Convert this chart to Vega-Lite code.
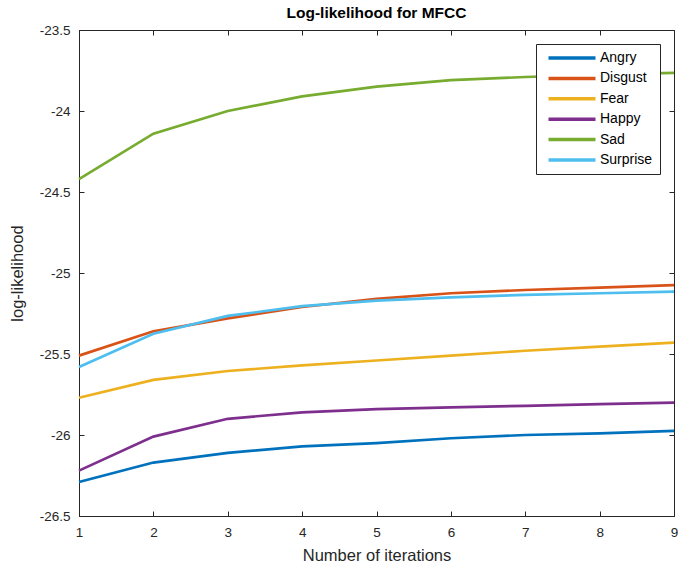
{
  "$schema": "https://vega.github.io/schema/vega-lite/v6.json",
  "autosize": "none",
  "width": 595,
  "height": 486,
  "padding": {"left": 79, "top": 30, "right": 4, "bottom": 57},
  "background": "white",
  "config": {
    "font": "Liberation Sans",
    "view": {"stroke": "#262626", "strokeWidth": 1},
    "axis": {"grid": false, "domainColor": "#262626", "tickColor": "#262626", "labelColor": "#262626", "titleColor": "#262626", "labelFont": "Liberation Sans", "titleFont": "Liberation Sans", "labelFontSize": 13.5, "titleFontSize": 16.5, "titleFontWeight": "normal"}
  },
  "title": {"text": "Log-likelihood for MFCC", "fontSize": 15.5, "fontWeight": "bold", "font": "Liberation Sans", "color": "#000000", "offset": 2, "frame": "group", "anchor": "middle"},
  "data": {"values": [
    {"iter": 1, "series": "Angry", "ll": -26.29},
    {"iter": 2, "series": "Angry", "ll": -26.17},
    {"iter": 3, "series": "Angry", "ll": -26.11},
    {"iter": 4, "series": "Angry", "ll": -26.07},
    {"iter": 5, "series": "Angry", "ll": -26.05},
    {"iter": 6, "series": "Angry", "ll": -26.02},
    {"iter": 7, "series": "Angry", "ll": -26.0},
    {"iter": 8, "series": "Angry", "ll": -25.99},
    {"iter": 9, "series": "Angry", "ll": -25.975},
    {"iter": 1, "series": "Disgust", "ll": -25.51},
    {"iter": 2, "series": "Disgust", "ll": -25.36},
    {"iter": 3, "series": "Disgust", "ll": -25.28},
    {"iter": 4, "series": "Disgust", "ll": -25.21},
    {"iter": 5, "series": "Disgust", "ll": -25.16},
    {"iter": 6, "series": "Disgust", "ll": -25.125},
    {"iter": 7, "series": "Disgust", "ll": -25.105},
    {"iter": 8, "series": "Disgust", "ll": -25.09},
    {"iter": 9, "series": "Disgust", "ll": -25.075},
    {"iter": 1, "series": "Fear", "ll": -25.77},
    {"iter": 2, "series": "Fear", "ll": -25.66},
    {"iter": 3, "series": "Fear", "ll": -25.605},
    {"iter": 4, "series": "Fear", "ll": -25.57},
    {"iter": 5, "series": "Fear", "ll": -25.54},
    {"iter": 6, "series": "Fear", "ll": -25.51},
    {"iter": 7, "series": "Fear", "ll": -25.48},
    {"iter": 8, "series": "Fear", "ll": -25.455},
    {"iter": 9, "series": "Fear", "ll": -25.43},
    {"iter": 1, "series": "Happy", "ll": -26.22},
    {"iter": 2, "series": "Happy", "ll": -26.01},
    {"iter": 3, "series": "Happy", "ll": -25.9},
    {"iter": 4, "series": "Happy", "ll": -25.86},
    {"iter": 5, "series": "Happy", "ll": -25.84},
    {"iter": 6, "series": "Happy", "ll": -25.83},
    {"iter": 7, "series": "Happy", "ll": -25.82},
    {"iter": 8, "series": "Happy", "ll": -25.81},
    {"iter": 9, "series": "Happy", "ll": -25.8},
    {"iter": 1, "series": "Sad", "ll": -24.42},
    {"iter": 2, "series": "Sad", "ll": -24.14},
    {"iter": 3, "series": "Sad", "ll": -24.0},
    {"iter": 4, "series": "Sad", "ll": -23.91},
    {"iter": 5, "series": "Sad", "ll": -23.85},
    {"iter": 6, "series": "Sad", "ll": -23.81},
    {"iter": 7, "series": "Sad", "ll": -23.79},
    {"iter": 8, "series": "Sad", "ll": -23.775},
    {"iter": 9, "series": "Sad", "ll": -23.765},
    {"iter": 1, "series": "Surprise", "ll": -25.58},
    {"iter": 2, "series": "Surprise", "ll": -25.375},
    {"iter": 3, "series": "Surprise", "ll": -25.265},
    {"iter": 4, "series": "Surprise", "ll": -25.205},
    {"iter": 5, "series": "Surprise", "ll": -25.17},
    {"iter": 6, "series": "Surprise", "ll": -25.15},
    {"iter": 7, "series": "Surprise", "ll": -25.135},
    {"iter": 8, "series": "Surprise", "ll": -25.125},
    {"iter": 9, "series": "Surprise", "ll": -25.115}
  ]},
  "layer": [
    {
      "mark": {"type": "line", "strokeWidth": 2.7},
      "encoding": {
        "x": {"field": "iter", "type": "quantitative", "title": "Number of iterations",
              "scale": {"domain": [1, 9], "nice": false, "zero": false},
              "axis": {"orient": "bottom", "values": [1,2,3,4,5,6,7,8,9], "tickSize": -5, "labelPadding": 14, "titlePadding": 9, "labelFlush": false}},
        "y": {"field": "ll", "type": "quantitative", "title": "log-likelihood",
              "scale": {"domain": [-26.5, -23.5], "nice": false, "zero": false},
              "axis": {"orient": "left", "values": [-26.5,-26,-25.5,-25,-24.5,-24,-23.5], "tickSize": -5, "labelPadding": 14, "titlePadding": 14, "labelExpr": "'' + datum.value", "labelFlush": false}},
        "color": {"field": "series", "type": "nominal",
                  "scale": {"domain": ["Angry","Disgust","Fear","Happy","Sad","Surprise"], "range": ["#0072BD","#D95319","#EDB120","#7E2F8E","#77AC30","#4DBEEE"]},
                  "legend": {"orient": "none", "legendX": 457, "legendY": 14, "title": null, "symbolType": "M-0.3,0H9.1", "symbolSize": 100, "symbolStrokeWidth": 3.5, "labelFontSize": 14, "labelFont": "Liberation Sans", "labelColor": "#000000", "strokeColor": "#262626", "fillColor": "white", "padding": 7, "rowPadding": 6.4, "labelOffset": 43, "offset": 0}}
      }
    },
    {
      "mark": {"type": "line", "opacity": 0},
      "encoding": {
        "x": {"field": "iter", "type": "quantitative",
              "axis": {"orient": "top", "values": [1,2,3,4,5,6,7,8,9], "tickSize": -5, "labels": false, "domain": false, "title": null}},
        "y": {"field": "ll", "type": "quantitative",
              "axis": {"orient": "right", "values": [-26.5,-26,-25.5,-25,-24.5,-24,-23.5], "tickSize": -5, "labels": false, "domain": false, "title": null}},
        "detail": {"field": "series"}
      }
    }
  ],
  "resolve": {"axis": {"x": "independent", "y": "independent"}}
}
